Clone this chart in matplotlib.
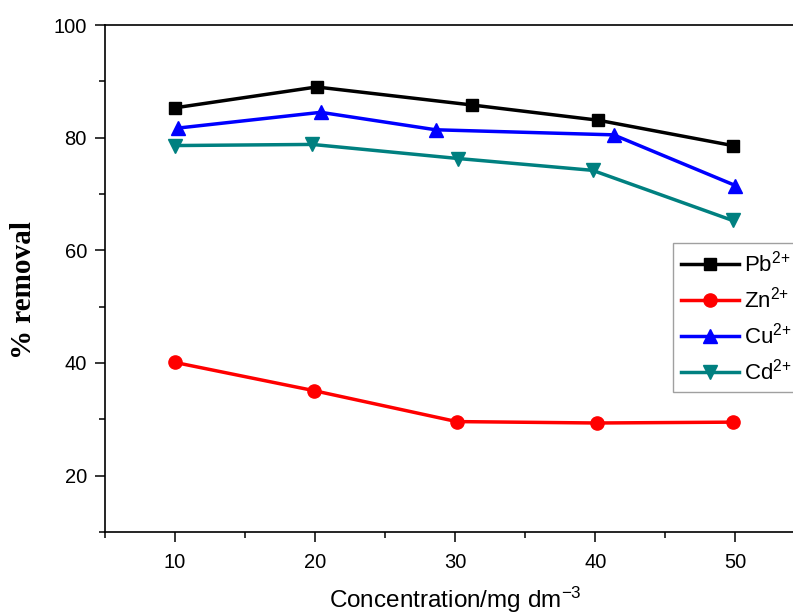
import matplotlib
matplotlib.use("Agg")
import matplotlib.pyplot as plt
from matplotlib.ticker import MultipleLocator

plt.rcParams['font.family'] = ['Liberation Sans', 'DejaVu Sans']
plt.rcParams['mathtext.fontset'] = 'custom'
plt.rcParams['mathtext.rm'] = 'Liberation Sans'
plt.rcParams['mathtext.it'] = 'Liberation Sans:italic'
plt.rcParams['mathtext.bf'] = 'Liberation Sans:bold'

# Data
pb_x = [10, 20.1, 31.2, 40.2, 49.8]
pb_y = [85.3, 89.0, 85.8, 83.1, 78.6]
zn_x = [10, 19.9, 30.1, 40.1, 49.8]
zn_y = [40.1, 35.1, 29.6, 29.35, 29.5]
cu_x = [10.2, 20.4, 28.6, 41.3, 50.0]
cu_y = [81.7, 84.5, 81.4, 80.5, 71.5]
cd_x = [10.0, 19.8, 30.2, 39.8, 49.8]
cd_y = [78.6, 78.8, 76.3, 74.2, 65.3]

labels = ['Pb$^{2{+}}$', 'Zn$^{2{+}}$', 'Cu$^{2{+}}$', 'Cd$^{2{+}}$']
xlabel = 'Concentration/mg dm$^{-3}$'
ylabel = '% removal'
xticks = [10, 20, 30, 40, 50]
yticks = [20, 40, 60, 80, 100]

W, H = 793, 615
fig = plt.figure(figsize=(W / 100, H / 100), dpi=100)
left_px, bottom_px, top_px = 105, 532, 25
ax_w_frac = 0.90
ax = fig.add_axes([left_px / W, (H - bottom_px) / H, ax_w_frac, (bottom_px - top_px) / H])

px_per_unit = 14.01
xmin = 5
xmax = xmin + ax_w_frac * W / px_per_unit

lw = 2.5
ax.plot(pb_x, pb_y, color='black', lw=lw, marker='s', ms=9, label=labels[0])
ax.plot(zn_x, zn_y, color='#ff0000', lw=lw, marker='o', ms=9.5, label=labels[1])
ax.plot(cu_x, cu_y, color='#0000ff', lw=lw, marker='^', ms=10.5, label=labels[2])
ax.plot(cd_x, cd_y, color='#008080', lw=lw, marker='v', ms=10.5, label=labels[3])

ax.set_xlim(xmin, xmax)
ax.set_ylim(10, 100)
ax.set_xticks(xticks)
ax.set_yticks(yticks)
ax.xaxis.set_minor_locator(MultipleLocator(5))
ax.yaxis.set_minor_locator(MultipleLocator(10))
ax.tick_params(which='major', direction='out', length=7, width=1.1, labelsize=14.5, pad=6)
ax.tick_params(which='minor', direction='out', length=4.5, width=1.1)
ax.tick_params(axis='x', which='major', pad=8)
ax.spines['right'].set_visible(False)
for s in ['left', 'bottom', 'top']:
    ax.spines[s].set_linewidth(1.2)

fig.text(455 / W, 1 - 600 / H, xlabel, ha='center', va='center', fontsize=17.5)
fig.text(24 / W, 1 - 290 / H, ylabel, rotation=90, ha='center', va='center',
         fontsize=21, fontweight='bold', family='Liberation Serif')

leg = ax.legend(loc='upper left', bbox_to_anchor=(673 / W, 1 - 243 / H),
                bbox_transform=fig.transFigure, borderaxespad=0, fontsize=16,
                handlelength=2.6, handletextpad=0.25, labelspacing=0.45,
                borderpad=0.35, numpoints=1, fancybox=False, frameon=True)
leg.get_frame().set_edgecolor('#888888')
leg.get_frame().set_linewidth(1.0)

fig.savefig('out.png', dpi=100)
